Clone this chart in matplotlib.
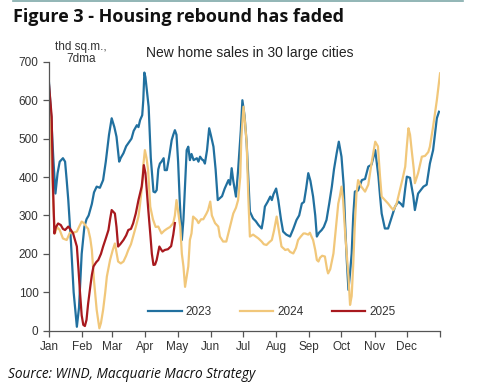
import matplotlib
matplotlib.use("Agg")
import matplotlib.pyplot as plt
from matplotlib.lines import Line2D

plt.rcParams['font.family'] = ['Liberation Sans', 'DejaVu Sans']

# day of year (0 = 1 Jan) and 7dma sales, thousand sq.m.
days_2023 = [0, 2, 4, 6, 8, 10, 13, 15, 16.5, 18,
             20.5, 23, 26, 28, 30.5, 33, 35, 37, 40, 42,
             44.5, 47.5, 50.5, 53, 56, 58.5, 61, 63, 65.5, 67,
             69.5, 72, 74, 77, 79, 82, 83.5, 85, 87, 88,
             89, 90, 93, 95, 97.5, 99, 100.5, 102, 103.5, 105,
             107, 108, 110, 112, 114.5, 116, 117.5, 119, 120.5, 122,
             124, 125.5, 127, 128.5, 130, 131.5, 133, 135, 138, 139.5,
             141, 143, 144, 145.5, 147.5, 149.5, 151, 153.5, 155.5, 157.5,
             159.5, 161.5, 164, 167.5, 169, 170.5, 172, 174.5, 176.5, 179,
             180.5, 182.5, 184.5, 186, 187.5, 190.5, 193, 195.5, 198.5, 200,
             201.5, 204, 206.5, 208, 209.5, 212, 214, 216.5, 218.5, 221.5,
             225, 228, 231, 233.5, 236, 238, 240, 242, 244, 246.5,
             248.5, 250, 252, 254.5, 256.5, 259, 261.5, 264, 266, 268.5,
             270.5, 273, 275, 276.5, 278, 279.5, 281, 282.5, 284, 285.5,
             288.5, 292, 295, 298, 301, 304.5, 307.5, 309, 310.5, 313.5,
             316.5, 320, 323, 326, 328.5, 330.5, 332.5, 334, 337, 340,
             341.5, 344.5, 349.5, 352.5, 355.5, 358.5, 362, 364]
sales_2023 = [645, 560, 450, 357, 410, 440, 449, 440, 392, 340,
              230, 100, 10, 60, 200, 270, 290, 300, 330, 360,
              375, 372, 392, 440, 510, 553, 530, 505, 440, 450,
              462, 480, 488, 500, 520, 535, 530, 548, 561, 600,
              672, 660, 583, 450, 362, 360, 366, 420, 435, 440,
              449, 418, 418, 450, 496, 510, 522, 510, 440, 340,
              236, 290, 380, 470, 479, 444, 460, 444, 449, 440,
              453, 445, 444, 435, 470, 527, 510, 479, 420, 340,
              345, 350, 370, 392, 380, 423, 390, 349, 418, 520,
              600, 560, 488, 400, 310, 292, 285, 275, 266, 290,
              323, 335, 349, 340, 355, 370, 340, 290, 258, 250,
              245, 265, 288, 300, 331, 335, 370, 410, 390, 349,
              300, 245, 255, 262, 270, 288, 330, 375, 420, 462,
              492, 453, 380, 271, 180, 106, 150, 201, 300, 362,
              365, 392, 395, 427, 432, 470, 401, 350, 305, 266,
              266, 297, 323, 336, 330, 323, 370, 401, 398, 350,
              314, 357, 375, 380, 435, 470, 553, 570]

days_2024 = [0, 2, 4, 5.5, 7.5, 10, 13, 16.5, 19.5, 22.5,
             26, 28, 30.5, 32.5, 35, 36.5, 38.5, 40, 42, 44.5,
             47, 48.5, 50.5, 52.5, 54, 57, 59.5, 61.5, 64.5, 67,
             69.5, 72, 74, 76.5, 78.5, 81, 83.5, 85, 87, 88,
             89.5, 91, 92.5, 94.5, 97, 99.5, 102, 105, 107.5, 110,
             113, 116, 117.5, 119, 120.5, 122.5, 124, 125.5, 127, 128.5,
             130, 131.5, 133, 134.5, 138, 139.5, 142, 144, 147, 148.5,
             150.5, 152, 155, 158, 159.5, 162.5, 165.5, 169, 172, 174.5,
             176.5, 178.5, 179.5, 181.5, 183, 184.5, 186, 187.5, 190.5, 193,
             195.5, 198.5, 200.5, 203, 205.5, 208, 210, 212.5, 214, 217,
             220.5, 223, 225, 228, 230.5, 232.5, 235, 237.5, 239, 242,
             243.5, 245, 246.5, 248.5, 250, 251.5, 253, 255, 257.5, 259.5,
             260.5, 262.5, 265.5, 267, 270, 271.5, 273, 274.5, 276.5, 279.5,
             281, 282.5, 284, 285.5, 287, 288.5, 291.5, 295, 298, 301,
             304.5, 307, 309, 310.5, 313.5, 316.5, 319.5, 321.5, 324.5, 327.5,
             330, 332.5, 334, 335.5, 337, 338.5, 340.5, 341.5, 344.5, 348,
             351, 354, 355.5, 358.5, 362, 365]
sales_2024 = [590, 480, 330, 253, 270, 262, 240, 236, 255, 255,
              258, 270, 284, 280, 270, 265, 240, 210, 130, 54,
              6, 20, 54, 100, 141, 184, 210, 227, 180, 175,
              180, 195, 210, 225, 245, 270, 297, 330, 380, 430,
              470, 450, 418, 323, 290, 270, 271, 253, 260, 265,
              270, 280, 300, 340, 310, 271, 200, 167, 114, 140,
              167, 236, 253, 297, 288, 280, 290, 290, 305, 314,
              336, 300, 280, 271, 245, 232, 232, 271, 305, 320,
              340, 400, 500, 583, 540, 488, 350, 245, 250, 245,
              240, 232, 225, 223, 230, 236, 260, 297, 270, 219,
              210, 212, 205, 201, 215, 236, 245, 253, 253, 250,
              255, 245, 236, 210, 184, 180, 190, 195, 193, 160,
              149, 160, 201, 245, 331, 350, 375, 340, 250, 141,
              67, 90, 175, 280, 357, 392, 375, 362, 380, 435,
              492, 480, 400, 349, 340, 331, 320, 314, 331, 366,
              395, 427, 480, 527, 510, 470, 420, 384, 410, 453,
              455, 465, 479, 531, 600, 670]

days_2025 = [0, 2.5, 3.5, 5, 6.5, 8.5, 11, 13, 15, 18,
             20.5, 22.5, 26, 27.5, 29, 30.5, 32, 33.5, 35, 36.5,
             38.5, 40, 41.5, 44, 46, 48.5, 50.5, 53, 55.5, 57,
             58.5, 61.5, 63, 64.5, 66.5, 69.5, 72, 74, 76.5, 78.5,
             81, 83.5, 86.5, 87.5, 88.5, 90, 91, 92.5, 94.5, 96,
             97.5, 99, 100.5, 103, 104.5, 106, 108, 111, 114, 116,
             117.5]
sales_2025 = [640, 557, 400, 253, 270, 279, 275, 265, 262, 271,
              262, 253, 219, 160, 97, 40, 15, 12, 28, 70,
              114, 145, 167, 178, 184, 200, 219, 240, 262, 290,
              314, 305, 270, 219, 225, 236, 248, 262, 265, 279,
              305, 340, 375, 400, 431, 410, 375, 320, 253, 200,
              171, 172, 184, 219, 212, 206, 210, 212, 220, 250,
              280]

month_starts = [0, 31, 59, 90, 120, 151, 181, 212, 243, 273, 304, 334, 365]
month_labels = ['Jan', 'Feb', 'Mar', 'Apr', 'May', 'Jun', 'Jul', 'Aug',
                'Sep', 'Oct', 'Nov', 'Dec', '']
y_ticks = [0, 100, 200, 300, 400, 500, 600, 700]

c23 = '#21709f'
c24 = '#f1c77a'
c25 = '#a8191e'
txt = '#333333'

fig = plt.figure(figsize=(4.95, 3.84), dpi=100)
ax = fig.add_axes([0.099, 0.139, 0.790, 0.700])

ax.plot(days_2023, sales_2023, color=c23, lw=1.6, label='2023')
ax.plot(days_2024, sales_2024, color=c24, lw=1.6, label='2024')
ax.plot(days_2025, sales_2025, color=c25, lw=1.6, label='2025')

ax.set_xlim(0, 365)
ax.set_ylim(0, 700)
ax.set_xticks(month_starts)
ax.set_xticklabels(month_labels)
ax.set_yticks(y_ticks)
for s in ['top', 'right']:
    ax.spines[s].set_visible(False)
for s in ['left', 'bottom']:
    ax.spines[s].set_color('#555555')
    ax.spines[s].set_linewidth(0.9)
ax.tick_params(colors='#555555', labelcolor=txt, labelsize=8.5, length=4, width=0.9)

ax.legend(loc='center', bbox_to_anchor=(0.57, 0.07), ncol=3, frameon=False,
          fontsize=8.5, handlelength=2.8, handletextpad=0.35, columnspacing=2.4,
          labelcolor=txt)

fig.text(0.163, 0.862, 'thd sq.m.,\n7dma', ha='center', va='center',
         fontsize=8.5, color=txt, linespacing=0.95)
fig.text(0.505, 0.862, 'New home sales in 30 large cities', ha='center',
         va='center', fontsize=10, color='#222222')

fig.text(0.026, 0.955, 'Figure 3 - Housing rebound has faded', ha='left',
         va='center', fontsize=13, fontweight='bold', family='Open Sans',
         color='#111111')
fig.text(0.016, 0.024, 'Source: WIND, Macquarie Macro Strategy', ha='left',
         va='center', fontsize=9.8, style='italic', family='Open Sans',
         color='#111111')
fig.add_artist(Line2D([0.026, 0.935], [0.998, 0.998], color='#7fa9a9', lw=1.2))

fig.savefig('out.png', dpi=100)
